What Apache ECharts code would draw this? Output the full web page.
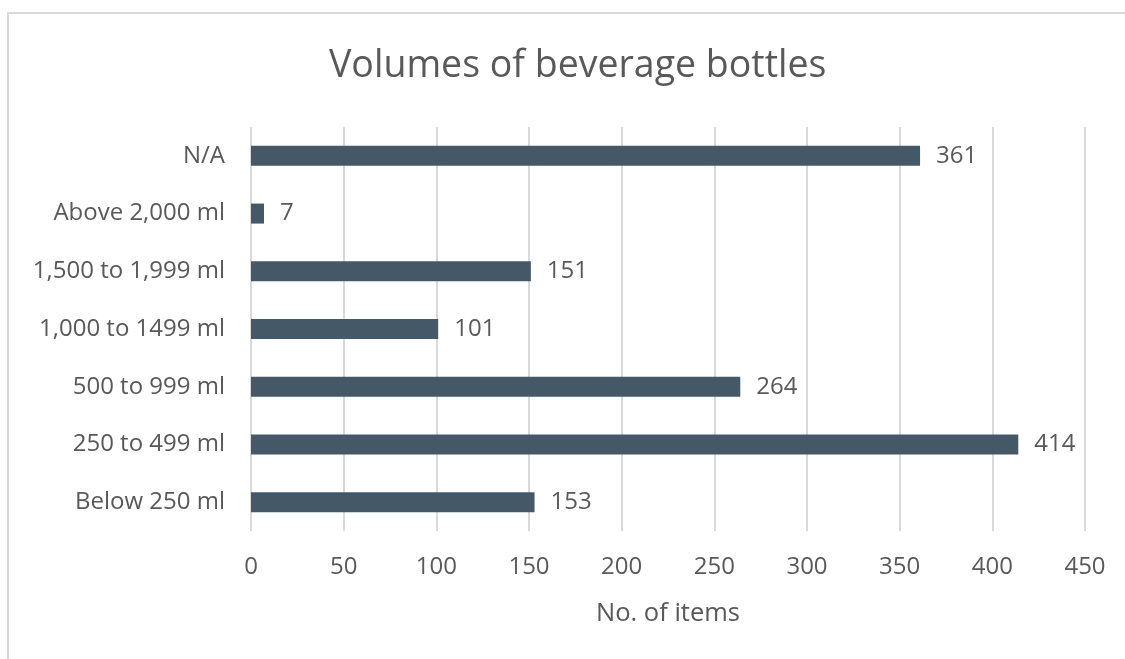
<!DOCTYPE html>
<html>
<head>
<meta charset="utf-8">
<script src="https://cdn.jsdelivr.net/npm/echarts@6/dist/echarts.min.js"></script>
<style>
  html, body { margin: 0; padding: 0; background: #ffffff; }
  #frame { position: absolute; left: 7px; top: 12px; width: 1130px; height: 660px; border: 2px solid #d9d9d9; box-sizing: border-box; }
  #chart { position: absolute; left: 0; top: 0; width: 1125px; height: 659px; }
</style>
</head>
<body>
<div id="frame"></div>
<div id="chart"></div>
<script>
// Bottle volume ranges, listed bottom to top as drawn on the category axis
const categories = ['Below 250 ml', '250 to 499 ml', '500 to 999 ml', '1,000 to 1499 ml', '1,500 to 1,999 ml', 'Above 2,000 ml', 'N/A'];
const itemCounts = [153, 414, 264, 101, 151, 7, 361];
const valueTicks = [0, 50, 100, 150, 200, 250, 300, 350, 400, 450];

const textColor = '#595959';
const fontFamily = '"Open Sans", "Noto Sans", sans-serif';

const chart = echarts.init(document.getElementById('chart'), null, { renderer: 'canvas' });
chart.setOption({
  backgroundColor: 'transparent',
  animation: false,
  title: {
    text: 'Volumes of beverage bottles',
    left: 324,
    top: 42,
    textStyle: { color: textColor, fontFamily, fontSize: 37.5, fontWeight: 'normal' }
  },
  grid: { left: 251, right: 40, top: 127, bottom: 128, containLabel: false },
  xAxis: {
    type: 'value',
    min: valueTicks[0],
    max: valueTicks[valueTicks.length - 1],
    interval: valueTicks[1] - valueTicks[0],
    name: 'No. of items',
    nameLocation: 'middle',
    nameGap: 70,
    nameTextStyle: { color: textColor, fontFamily, fontSize: 25.5 },
    axisLine: { show: false },
    axisTick: { show: false },
    axisLabel: { color: textColor, fontFamily, fontSize: 24, margin: 24 },
    splitLine: { show: true, lineStyle: { color: '#d9d9d9', width: 2 } }
  },
  yAxis: {
    type: 'category',
    data: categories,
    axisLine: { show: false },
    axisTick: { show: false },
    axisLabel: { color: textColor, fontFamily, fontSize: 24, margin: 26 },
    splitLine: { show: false }
  },
  series: [{
    type: 'bar',
    data: itemCounts,
    barWidth: 20,
    itemStyle: { color: '#445868' },
    label: {
      show: true,
      position: 'right',
      distance: 16,
      color: textColor,
      fontFamily,
      fontSize: 24
    }
  }]
});
</script>
</body>
</html>
